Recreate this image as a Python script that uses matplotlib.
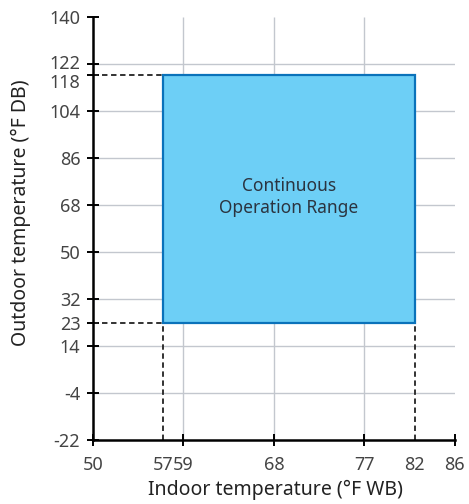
import matplotlib
matplotlib.use('Agg')
import matplotlib.pyplot as plt
import matplotlib.transforms as mtransforms
from matplotlib.patches import Rectangle

# Data
x_ticks = [50, 57, 59, 68, 77, 82, 86]
y_ticks = [-22, -4, 14, 23, 32, 50, 68, 86, 104, 118, 122, 140]
grid_x = [59, 68, 77]
grid_y = [-4, 14, 32, 50, 68, 86, 104, 122]
range_x = [57, 82]      # indoor WB limits
range_y = [23, 118]     # outdoor DB limits
range_label = "Continuous\nOperation Range"

plt.rcParams['font.family'] = ['Noto Sans', 'DejaVu Sans']
plt.rcParams['axes.unicode_minus'] = False

fig = plt.figure(figsize=(4.69, 5.04), dpi=100)
ax = fig.add_axes([0.198, 0.127, 0.772, 0.839])
ax.set_xlim(x_ticks[0], x_ticks[-1])
ax.set_ylim(y_ticks[0], y_ticks[-1])

# grid
ax.vlines(grid_x, y_ticks[0], y_ticks[-1], color='#c3c7ce', lw=1.0, zorder=1)
ax.hlines(grid_y, x_ticks[0], x_ticks[-1], color='#c3c7ce', lw=1.0, zorder=1)

# operation range box
rect = Rectangle((range_x[0], range_y[0]), range_x[1] - range_x[0], range_y[1] - range_y[0],
                 facecolor='#6dcff6', edgecolor='#0a72ba', lw=1.6, zorder=3)
ax.add_patch(rect)
ax.text(sum(range_x) / 2, sum(range_y) / 2 + 0.5, range_label, ha='center', va='center',
        fontsize=12.5, color='#2b3440', linespacing=1.3, zorder=4)

# dashed limit lines
dash = dict(color='#222222', lw=1.3, linestyle=(0, (3, 2)), zorder=2, clip_on=False)
for yv in range_y:
    ax.plot([x_ticks[0], range_x[0]], [yv, yv], **dash)
for xv in range_x:
    ax.plot([xv, xv], [y_ticks[0], range_y[0]], **dash)

for side in ['top', 'right']:
    ax.spines[side].set_visible(False)
for side in ['left', 'bottom']:
    ax.spines[side].set_linewidth(1.8)
    ax.spines[side].set_zorder(5)

ax.set_xticks(x_ticks)
ax.set_yticks(y_ticks)
ax.tick_params(direction='inout', length=9, width=1.4, labelsize=13, labelcolor='#444444')
ax.tick_params(axis='x', pad=7)
ax.tick_params(axis='y', pad=4.5)

# no solid tick where the dashed lines meet the x axis
for tick, val in zip(ax.xaxis.get_major_ticks(), x_ticks):
    if val in range_x:
        tick.tick1line.set_visible(False)

# 118 and 122 sit close together: pull their labels apart a little
nudge = {118: -4.5, 122: 1.5}
for lbl, val in zip(ax.get_yticklabels(), y_ticks):
    if val in nudge:
        shift = mtransforms.ScaledTranslation(0, nudge[val] / 72, fig.dpi_scale_trans)
        lbl.set_transform(lbl.get_transform() + shift)

ax.set_xlabel('Indoor temperature (°F WB)', fontsize=14, color='#222222')
ax.set_ylabel('Outdoor temperature (°F DB)', fontsize=14, color='#222222')
ax.xaxis.set_label_coords(0.503, -0.095)
ax.yaxis.set_label_coords(-0.17, 0.537)

fig.savefig('out.png', dpi=100)
